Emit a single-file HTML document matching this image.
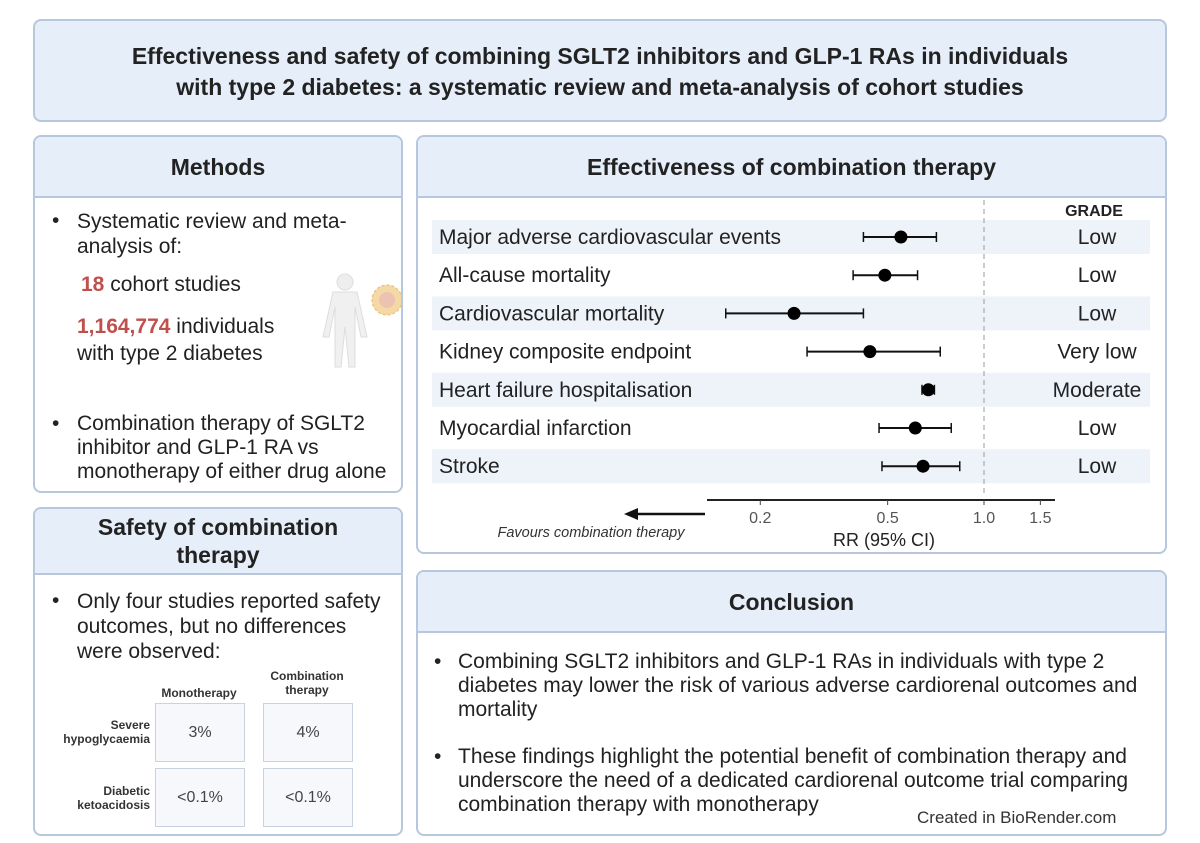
<!DOCTYPE html>
<html><head><meta charset="utf-8">
<style>
*{box-sizing:border-box;margin:0;padding:0}
body{width:1200px;height:843px;background:#fff;position:relative;font-family:"Liberation Sans",Arial,sans-serif;color:#222;overflow:hidden}
.box{position:absolute;border:2px solid #b7c7dd;border-radius:8px;background:#fff;overflow:hidden}
.hdr{position:absolute;left:0;right:0;top:0;background:#e6eef9;border-bottom:2px solid #b7c7dd;font-weight:bold;font-size:23px;text-align:center;display:flex;align-items:center;justify-content:center;line-height:28px}
.txt{position:absolute;font-size:21px;line-height:24px;color:#222;white-space:nowrap}
.red{color:#c0504d;font-weight:bold}
.bul{position:absolute;font-size:21px}
.cell{position:absolute;width:90px;border:1.5px solid #c9d3df;background:#f6f8fc;font-size:16px;color:#444;display:flex;align-items:center;justify-content:center}
.lab{position:absolute;font-size:12px;font-weight:bold;text-align:right;color:#333;line-height:14px}
</style></head><body>
<div class="box" style="left:33px;top:19px;width:1134px;height:103px;background:#e6eef9">
 <div style="position:absolute;left:0;right:0;top:20px;text-align:center;font-weight:bold;font-size:23px;line-height:31px">Effectiveness and safety of combining SGLT2 inhibitors and GLP-1 RAs in individuals<br>with type 2 diabetes: a systematic review and meta-analysis of cohort studies</div>
</div>

<div class="box" style="left:33px;top:135px;width:370px;height:358px">
 <div class="hdr" style="height:61px">Methods</div>
 <div class="bul" style="left:17px;top:72px">•</div>
 <div class="txt" style="left:42px;top:72px;line-height:25px">Systematic review and meta-<br>analysis of:</div>
 <div class="txt" style="left:46px;top:136px"><span class="red">18</span> cohort studies</div>
 <div class="txt" style="left:42px;top:176px;line-height:27px"><span class="red">1,164,774</span> individuals<br>with type 2 diabetes</div>
 <svg style="position:absolute;left:260px;top:135px" width="110" height="100">
  <circle cx="50" cy="10" r="8" fill="#eee" stroke="#ddd"/>
  <path d="M38 20 h24 l10 45 h-6 l-6-30 v60 h-6 l-4-40 l-4 40 h-6 v-60 l-6 30 h-6z" fill="#f0f0f0" stroke="#ddd"/>
  <circle cx="92" cy="28" r="15" fill="#f4d9a6" stroke="#e8b870" stroke-dasharray="3 2"/>
  <circle cx="92" cy="28" r="8" fill="#ecc3b0"/>
 </svg>
 <div class="bul" style="left:17px;top:275px">•</div>
 <div class="txt" style="left:42px;top:275px">Combination therapy of SGLT2<br>inhibitor and GLP-1 RA vs<br>monotherapy of either drug alone</div>
</div>

<div class="box" style="left:33px;top:507px;width:370px;height:329px">
 <div class="hdr" style="height:66px">Safety of combination<br>therapy</div>
 <div class="bul" style="left:17px;top:80px">•</div>
 <div class="txt" style="left:42px;top:80px;line-height:25px">Only four studies reported safety<br>outcomes, but no differences<br>were observed:</div>
 <div class="lab" style="left:119px;top:177px;width:90px;text-align:center">Monotherapy</div>
 <div class="lab" style="left:227px;top:160px;width:90px;text-align:center">Combination<br>therapy</div>
 <div class="lab" style="left:0;top:209px;width:115px">Severe<br>hypoglycaemia</div>
 <div class="lab" style="left:0;top:275px;width:115px">Diabetic<br>ketoacidosis</div>
 <div class="cell" style="left:120px;top:194px;height:59px">3%</div>
 <div class="cell" style="left:228px;top:194px;height:59px">4%</div>
 <div class="cell" style="left:120px;top:259px;height:59px">&lt;0.1%</div>
 <div class="cell" style="left:228px;top:259px;height:59px">&lt;0.1%</div>
</div>

<div class="box" style="left:416px;top:135px;width:751px;height:419px">
 <div class="hdr" style="height:61px">Effectiveness of combination therapy</div>
</div>
<svg id="forest" style="position:absolute;left:0;top:0" width="1200" height="843"></svg>

<div class="box" style="left:416px;top:570px;width:751px;height:266px">
 <div class="hdr" style="height:61px">Conclusion</div>
 <div class="bul" style="left:16px;top:78px">•</div>
 <div class="txt" style="left:40px;top:78px">Combining SGLT2 inhibitors and GLP-1 RAs in individuals with type 2<br>diabetes may lower the risk of various adverse cardiorenal outcomes and<br>mortality</div>
 <div class="bul" style="left:16px;top:173px">•</div>
 <div class="txt" style="left:40px;top:173px">These findings highlight the potential benefit of combination therapy and<br>underscore the need of a dedicated cardiorenal outcome trial comparing<br>combination therapy with monotherapy</div>
 <div style="position:absolute;left:499px;top:236px;font-size:17px;color:#333">Created in BioRender.com</div>
</div>

<script>
const outcomes=["Major adverse cardiovascular events","All-cause mortality","Cardiovascular mortality","Kidney composite endpoint","Heart failure hospitalisation","Myocardial infarction","Stroke"];
const rr=[0.55,0.49,0.255,0.44,0.67,0.61,0.645];
const ciLow=[0.42,0.39,0.156,0.28,0.64,0.47,0.48];
const ciHigh=[0.71,0.62,0.42,0.73,0.70,0.79,0.84];
const grades=["Low","Low","Low","Very low","Moderate","Low","Low"];
const ticks=[0.2,0.5,1.0,1.5];
const tickLabels=["0.2","0.5","1.0","1.5"];
const NS="http://www.w3.org/2000/svg";
const svg=document.getElementById('forest');
const xs=v=>984+139*Math.log(v);
const ys=i=>237+38.2*i;
function mk(t,a,txt){const e=document.createElementNS(NS,t);for(const k in a)e.setAttribute(k,a[k]);if(txt!==undefined)e.textContent=txt;svg.appendChild(e);return e;}
outcomes.forEach((o,i)=>{
 if(i%2===0){const r=mk('rect',{x:432,y:ys(i)-17,width:718,height:34,fill:'#eef3fa'});
 
 }
});
const ref=mk('line',{x1:xs(1),x2:xs(1),y1:200,y2:495,stroke:'#999','stroke-dasharray':'5 4','stroke-width':1});


const gh=mk('text',{x:1094,y:216,'font-size':16,'font-weight':'bold','text-anchor':'middle',fill:'#222'},'GRADE');


outcomes.forEach((o,i)=>{
 const y=ys(i);
 const l=mk('text',{x:439,y:y+7,'font-size':21,fill:'#222'},o);
 
 
 const ci=mk('line',{x1:xs(ciLow[i]),x2:xs(ciHigh[i]),y1:y,y2:y,stroke:'#111','stroke-width':2});
 
 
 [ciLow[i],ciHigh[i]].forEach(v=>{const c=mk('line',{x1:xs(v),x2:xs(v),y1:y-5,y2:y+5,stroke:'#111','stroke-width':1.5});
 
 });
 const d=mk('circle',{cx:xs(rr[i]),cy:y,r:6.5,fill:'#000'});
 
 
 const g=mk('text',{x:1097,y:y+7,'font-size':21,'text-anchor':'middle',fill:'#222'},grades[i]);
 
 
});
const ax=mk('line',{x1:707,x2:1055,y1:500,y2:500,stroke:'#222','stroke-width':2});


ticks.forEach((t,i)=>{
 const tk=mk('line',{x1:xs(t),x2:xs(t),y1:500,y2:505,stroke:'#444'});
 
 
 const tl=mk('text',{x:xs(t),y:523,'font-size':16,'text-anchor':'middle',fill:'#555'},tickLabels[i]);
 
 
});
const at=mk('text',{x:884,y:546,'font-size':18,'text-anchor':'middle',fill:'#222'},'RR (95% CI)');


const ar=mk('line',{x1:705,x2:635,y1:514,y2:514,stroke:'#111','stroke-width':2.5});


const ah=mk('polygon',{points:'624,514 638,508 638,520',fill:'#111'});


const ft=mk('text',{x:591,y:537,'font-size':14.5,'font-style':'italic','text-anchor':'middle',fill:'#333'},'Favours combination therapy');


</script>
</body></html>
